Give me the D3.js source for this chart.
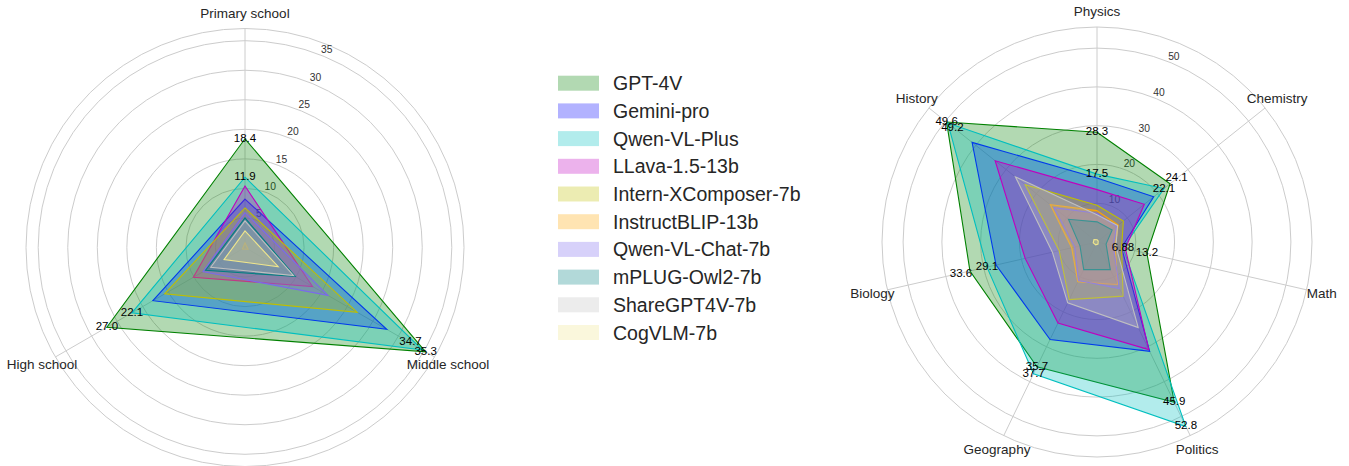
<!DOCTYPE html>
<html><head><meta charset="utf-8">
<script src="https://cdn.jsdelivr.net/npm/d3@7"></script>
<style>
html,body{margin:0;padding:0;background:#fff;}
svg{display:block;font-family:"Liberation Sans",Arial,Helvetica,sans-serif;}
</style></head>
<body><svg id="chart" width="1349" height="466"></svg>
<script>
// ---- data ----
const models = ["GPT-4V","Gemini-pro","Qwen-VL-Plus","LLava-1.5-13b","Intern-XComposer-7b",
  "InstructBLIP-13b","Qwen-VL-Chat-7b","mPLUG-Owl2-7b","ShareGPT4V-7b","CogVLM-7b"];
const modelColors = ["#008000","#0000ff","#00bfbf","#bf00bf","#bfbf00",
  "#ffa500","#7b68ee","#008080","#c0c0c0","#f0e68c"];

const schoolAxes = ["Primary school","Middle school","High school"];
const schoolTicks = [5,10,15,20,25,30,35];
// per model: Primary, Middle, High
const schoolScores = [
  [18.4,35.3,27.0],
  [8.2,27.7,18.0],
  [11.9,34.7,22.1],
  [10.4,13.2,10.1],
  [6.7,21.9,15.7],
  [0.8,0.6,0.5],
  [5.9,16.2,8.2],
  [5.0,9.8,7.7],
  [4.5,9.5,6.7],
  [2.8,6.5,4.1]
];

const subjectAxes = ["Physics","Chemistry","Math","Politics","Geography","Biology","History"];
const subjectTicks = [10,20,30,40,50];
// per model: Physics, Chemistry, Math, Politics, Geography, Biology, History
const subjectScores = [
  [28.3,24.1,13.2,45.9,35.7,33.6,49.6],
  [16.5,18.7,6.5,31.3,27.9,26.7,41.2],
  [17.5,22.1,6.88,52.8,37.7,29.1,49.2],
  [13.5,15.6,7.5,30.8,23.2,19.0,33.6],
  [9.5,8.7,6.5,15.5,16.5,10.0,23.7],
  [8.1,7.0,4.8,12.2,11.4,6.7,15.4],
  [7.4,6.4,4.3,13.3,11.0,5.9,14.2],
  [5.2,5.0,2.4,7.9,7.9,4.5,9.4],
  [7.0,6.8,5.0,24.5,17.4,11.8,26.9],
  [0.6,0.4,0.3,0.6,0.8,1.0,1.0]
];
const annotated = ["GPT-4V","Qwen-VL-Plus"];

// label nudges (pixels) used to keep overlapping value labels apart
const schoolNudge = {"Qwen-VL-Plus|1": [-12,-8.5]};
const subjectNudge = {"GPT-4V|1": [6.5,-5.5], "GPT-4V|5": [-9,3], "Qwen-VL-Plus|6": [4.5,4.5]};

// ---- drawing ----
const svg = d3.select("#chart");
const fmt = d3.format(".3r");

function radar(cx, cy, R, axes, scores, ticks, nudge) {
  const g = svg.append("g").attr("transform", `translate(${cx},${cy})`);
  const n = axes.length;
  const rmax = 1.05 * d3.max(scores.flat());
  const r = d3.scaleLinear().domain([0, rmax]).range([0, R]);
  const ang = d3.scaleLinear().domain([0, n]).range([0, 2*Math.PI]);
  const px = (i, v) => r(v) * Math.sin(ang(i));
  const py = (i, v) => -r(v) * Math.cos(ang(i));

  g.selectAll("circle.grid").data(ticks.concat([rmax])).join("circle")
    .attr("r", d => r(d)).attr("fill", "none")
    .attr("stroke", "#cccccc").attr("stroke-width", 1);
  g.selectAll("line.spoke").data(axes).join("line")
    .attr("x1", 0).attr("y1", 0)
    .attr("x2", (d,i) => px(i, rmax)).attr("y2", (d,i) => py(i, rmax))
    .attr("stroke", "#cccccc").attr("stroke-width", 1);
  const la = 22.5 * Math.PI / 180;
  g.selectAll("text.tick").data(ticks).join("text")
    .attr("x", d => (r(d) + 7) * Math.sin(la))
    .attr("y", d => -(r(d) + 7) * Math.cos(la))
    .attr("text-anchor", "middle").attr("dominant-baseline", "central")
    .attr("font-size", 10.3).attr("fill", "#333").text(d => d);
  g.selectAll("text.cat").data(axes).join("text")
    .attr("x", (d,i) => (R + 15.5) * Math.sin(ang(i)))
    .attr("y", (d,i) => -(R + 15.5) * Math.cos(ang(i)))
    .attr("text-anchor", "middle").attr("dominant-baseline", "central")
    .attr("font-size", 13.5).attr("fill", "#262626").text(d => d);

  const line = d3.lineRadial()
    .angle((d,i) => ang(i)).radius(d => r(d)).curve(d3.curveLinearClosed);
  scores.forEach((vals, m) => {
    g.append("path").attr("d", line(vals))
      .attr("fill", modelColors[m]).attr("fill-opacity", 0.3).attr("stroke", "none");
    g.append("path").attr("d", line(vals))
      .attr("fill", "none").attr("stroke", modelColors[m]).attr("stroke-width", 1.1);
  });
  scores.forEach((vals, m) => {
    if (!annotated.includes(models[m])) return;
    vals.forEach((v, i) => {
      const off = nudge[models[m] + "|" + i] || [0, 0];
      g.append("text").attr("x", px(i, v) + off[0]).attr("y", py(i, v) + off[1] - 1)
        .attr("text-anchor", "middle").attr("dominant-baseline", "central")
        .attr("font-size", 11.5).attr("fill", "#000").text(fmt(v));
    });
  });
}

radar(245, 247.5, 219, schoolAxes, schoolScores, schoolTicks, schoolNudge);
radar(1097, 242, 215, subjectAxes, subjectScores, subjectTicks, subjectNudge);

// legend
const lg = svg.append("g").attr("transform", "translate(558,83.2)");
const rows = lg.selectAll("g").data(models).join("g")
  .attr("transform", (d,i) => `translate(0,${i*27.7})`);
rows.append("rect").attr("x", 0).attr("y", -7.5).attr("width", 41).attr("height", 15)
  .attr("fill", (d,i) => modelColors[i]).attr("fill-opacity", 0.3);
rows.append("text").attr("x", 55).attr("y", 0).attr("dominant-baseline", "central")
  .attr("font-size", 19.5).attr("fill", "#262626").text(d => d);
</script></body></html>
